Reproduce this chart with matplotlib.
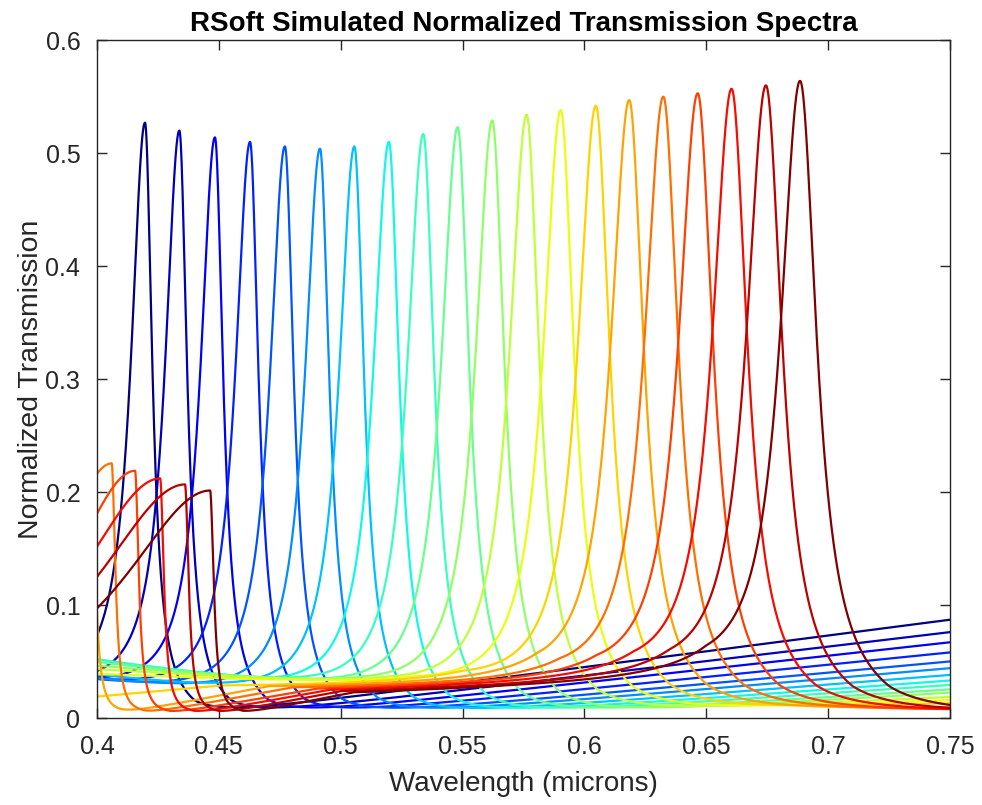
import numpy as np
import matplotlib.pyplot as plt

# peak positions (microns) and peak transmission, blue -> dark red
centers = [0.4197, 0.4338, 0.4484, 0.4628, 0.4771, 0.4915, 0.5056, 0.5198, 0.5339, 0.5480,
           0.5622, 0.5763, 0.5903, 0.6047, 0.6184, 0.6324, 0.6465, 0.6604, 0.6745, 0.6885]
heights = [0.527, 0.520, 0.514, 0.510, 0.506, 0.504, 0.506, 0.510, 0.517, 0.523,
           0.529, 0.534, 0.538, 0.542, 0.547, 0.550, 0.553, 0.557, 0.560, 0.564]
# half widths on each side of the peak
width_left = [0.0070, 0.0071, 0.0072, 0.0073, 0.0074, 0.0075, 0.0076, 0.0078, 0.0080, 0.0082,
              0.0084, 0.0086, 0.0088, 0.0090, 0.0092, 0.0094, 0.0095, 0.0096, 0.0097, 0.0098]
width_right = [0.0036, 0.0038, 0.0040, 0.0042, 0.0044, 0.0046, 0.0048, 0.0051, 0.0054, 0.0057,
               0.0060, 0.0063, 0.0066, 0.0069, 0.0072, 0.0074, 0.0076, 0.0078, 0.0080, 0.0082]

# background level of each curve, (wavelength, transmission) pairs
base_x = [
    [0.40, 0.440, 0.75],
    [0.40, 0.455, 0.75],
    [0.40, 0.470, 0.75],
    [0.40, 0.485, 0.75],
    [0.40, 0.500, 0.75],
    [0.40, 0.515, 0.75],
    [0.40, 0.530, 0.75],
    [0.40, 0.480, 0.545, 0.75],
    [0.40, 0.490, 0.560, 0.75],
    [0.40, 0.500, 0.575, 0.75],
    [0.40, 0.510, 0.590, 0.75],
    [0.40, 0.520, 0.605, 0.75],
    [0.40, 0.530, 0.620, 0.75],
    [0.40, 0.450, 0.550, 0.635, 0.75],
    [0.40, 0.410, 0.470, 0.580, 0.650, 0.75],
    [0.40, 0.420, 0.480, 0.590, 0.665, 0.75],
    [0.40, 0.430, 0.490, 0.605, 0.680, 0.75],
    [0.40, 0.440, 0.495, 0.620, 0.695, 0.75],
    [0.40, 0.450, 0.500, 0.635, 0.710, 0.75],
    [0.40, 0.460, 0.505, 0.650, 0.725, 0.75],
]
base_y = [
    [0.015, 0.000, 0.087],
    [0.020, 0.000, 0.076],
    [0.025, 0.000, 0.067],
    [0.028, 0.000, 0.058],
    [0.030, 0.000, 0.050],
    [0.032, 0.000, 0.044],
    [0.036, 0.000, 0.038],
    [0.050, 0.020, 0.000, 0.033],
    [0.050, 0.022, 0.000, 0.029],
    [0.048, 0.022, 0.000, 0.025],
    [0.045, 0.024, 0.000, 0.022],
    [0.042, 0.025, 0.002, 0.018],
    [0.038, 0.026, 0.003, 0.015],
    [0.018, 0.027, 0.028, 0.004, 0.012],
    [0.000, 0.002, 0.026, 0.028, 0.004, 0.008],
    [0.000, 0.002, 0.025, 0.028, 0.004, 0.006],
    [0.000, 0.002, 0.024, 0.029, 0.003, 0.005],
    [0.000, 0.002, 0.023, 0.030, 0.003, 0.004],
    [0.000, 0.002, 0.022, 0.030, 0.002, 0.003],
    [0.000, 0.002, 0.021, 0.031, 0.002, 0.002],
]

# second order resonances of the long wavelength curves (left edge sawtooth)
second_idx = [14, 15, 16, 17, 18, 19]
second_centers = [0.3978, 0.4060, 0.4156, 0.4259, 0.4361, 0.4464]
second_heights = [0.230, 0.224, 0.217, 0.210, 0.2045, 0.199]
second_wl = [0.030, 0.030, 0.0345, 0.0415, 0.045, 0.045]
second_wr = [0.0018, 0.0018, 0.0018, 0.0018, 0.0018, 0.0018]


def lorentz(x, c, h, wl, wr):
    u = np.where(x < c, (c - x) / wl, (x - c) / wr)
    return h / (1 + u ** 2)


wl_axis = np.linspace(0.4, 0.75, 3501)
colors = plt.cm.jet(np.linspace(0, 1, len(centers)))

plt.rcParams['font.family'] = 'Liberation Sans'
fig = plt.figure(figsize=(9.82, 8.05), dpi=100)
ax = fig.add_axes([0.0988, 0.108, 0.8686, 0.842])

for i in range(len(centers)):
    base = np.interp(wl_axis, base_x[i], base_y[i])
    amp = heights[i] - np.interp(centers[i], base_x[i], base_y[i])
    trans = base + lorentz(wl_axis, centers[i], amp, width_left[i], width_right[i])
    if i in second_idx:
        k = second_idx.index(i)
        trans = trans + lorentz(wl_axis, second_centers[k], second_heights[k],
                                second_wl[k], second_wr[k])
    ax.plot(wl_axis, trans, color=colors[i], lw=1.6)

ax.set_xlim(0.4, 0.75)
ax.set_ylim(0, 0.6)
ax.set_xticks(np.arange(0.4, 0.751, 0.05))
ax.set_xticklabels(['0.4', '0.45', '0.5', '0.55', '0.6', '0.65', '0.7', '0.75'])
ax.set_yticks(np.arange(0, 0.61, 0.1))
ax.set_yticklabels(['0', '0.1', '0.2', '0.3', '0.4', '0.5', '0.6'])
ax.tick_params(direction='in', top=True, right=True, length=7, width=1,
               labelsize=18, colors='#262626')
ax.tick_params(axis='x', pad=12)
ax.tick_params(axis='y', pad=12)
for s in ax.spines.values():
    s.set_color('#262626')
    s.set_linewidth(1)

ax.set_xlabel('Wavelength (microns)', fontsize=20, color='#262626', labelpad=9)
ax.set_ylabel('Normalized Transmission', fontsize=20.5, color='#262626', labelpad=1)
ax.set_title('RSoft Simulated Normalized Transmission Spectra', fontsize=20,
             fontweight='bold', pad=7)

fig.savefig('out.png', dpi=100)
